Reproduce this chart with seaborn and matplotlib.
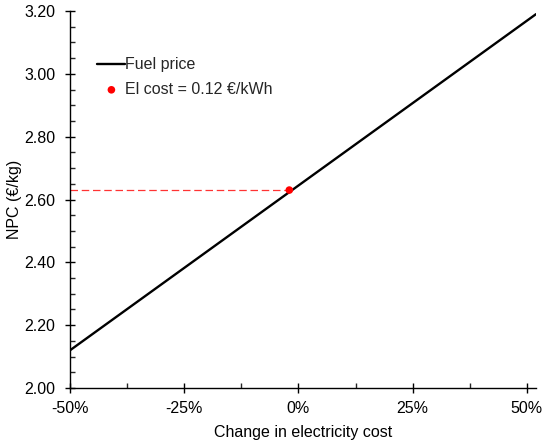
import matplotlib
matplotlib.use("Agg")
import matplotlib.pyplot as plt
from matplotlib.ticker import MultipleLocator, FuncFormatter
import seaborn as sns
import pandas as pd

# data
elec_change = [-50, 52]          # % change in electricity cost
npc = [2.12, 3.19]               # NPC (€/kg)
base_x = -2
base_y = 2.63

sns.set_theme(style="ticks")
plt.rcParams['font.family'] = ['Liberation Sans', 'DejaVu Sans']

df = pd.DataFrame({"change": elec_change, "npc": npc})

fig = plt.figure(figsize=(5.5, 4.44), dpi=100)
ax = fig.add_axes([70/550, 1 - 388/444, (536-70)/550, (388-11)/444])

sns.lineplot(data=df, x="change", y="npc", color="black", linewidth=1.7,
             label="Fuel price", ax=ax)
ax.plot([-50, base_x], [base_y, base_y], color="#ff3333", linestyle=(0, (6, 3)),
        linewidth=0.9, zorder=1)
sns.scatterplot(x=[base_x], y=[base_y], color="red", s=30, edgecolor="none",
                label="El cost = 0.12 €/kWh", ax=ax, zorder=5)

ax.set_xlim(-50, 52)
ax.set_ylim(2.0, 3.2)
ax.xaxis.set_major_locator(MultipleLocator(25))
ax.xaxis.set_minor_locator(MultipleLocator(12.5))
ax.yaxis.set_major_locator(MultipleLocator(0.2))
ax.yaxis.set_minor_locator(MultipleLocator(0.05))
ax.xaxis.set_major_formatter(FuncFormatter(lambda v, p: f"{v:.0f}%"))
ax.yaxis.set_major_formatter(FuncFormatter(lambda v, p: f"{v:.2f}"))
ax.tick_params(which="major", direction="inout", length=7, width=1, labelsize=11.5, colors="black")
ax.tick_params(axis="y", which="major", pad=7)
ax.tick_params(axis="x", which="major", pad=6)
ax.tick_params(which="minor", direction="in", length=3.5, width=1)

for s in ["top", "right"]:
    ax.spines[s].set_visible(False)
for s in ["left", "bottom"]:
    ax.spines[s].set_color("black")
    ax.spines[s].set_linewidth(1)

ax.set_xlabel("Change in electricity cost", fontsize=11.5, color="black", labelpad=6)
ax.set_ylabel("NPC (€/kg)", fontsize=11.5, color="black", labelpad=2)

ax.legend(loc="upper left", bbox_to_anchor=(0.028, 0.915), frameon=False,
          fontsize=11.5, handlelength=1.75, handletextpad=0.0, labelspacing=0.6)

fig.savefig("out.png", dpi=100)
